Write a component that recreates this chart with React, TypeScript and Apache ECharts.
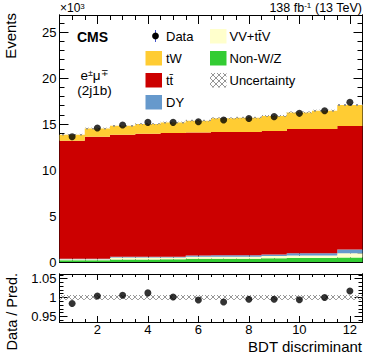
import React, { useEffect, useRef } from 'react';
import * as echarts from 'echarts';

// ---- data (events in units of 10^3) ----
const bins = [1, 2, 3, 4, 5, 6, 7, 8, 9, 10, 11, 12];
const dataEvents = [13.62, 14.57, 14.89, 15.18, 15.18, 15.25, 15.43, 15.6, 15.8, 16.16, 16.45, 17.36];
const nonWZ = [0.18, 0.18, 0.28, 0.28, 0.29, 0.35, 0.35, 0.36, 0.4, 0.43, 0.44, 0.5];
const vvttv = [0.12, 0.12, 0.2, 0.2, 0.2, 0.22, 0.22, 0.22, 0.26, 0.28, 0.28, 0.45];
const dy = [0.06, 0.06, 0.08, 0.09, 0.09, 0.15, 0.16, 0.16, 0.16, 0.23, 0.23, 0.4];
const ttbar = [12.82, 13.26, 13.28, 13.38, 13.44, 13.37, 13.4, 13.39, 13.42, 13.52, 13.51, 13.43];
const tw = [0.66, 0.89, 0.96, 1.05, 1.14, 1.27, 1.49, 1.55, 1.64, 1.8, 1.99, 2.29];
const ratio = [0.984, 1.004, 1.006, 1.012, 1.001, 0.993, 0.988, 0.995, 0.995, 0.994, 1.0, 1.017];
const uncFrac = [0.0065, 0.0065, 0.0065, 0.0065, 0.0065, 0.0065, 0.0065, 0.0065, 0.0065, 0.0065, 0.0065, 0.0065];

const mainYLabels = [0, 5, 10, 15, 20, 25];
const ratioYLabels = [0.95, 1, 1.05];
const xLabels = [2, 4, 6, 8, 10, 12];

const COLORS = {
  nonWZ: '#33cc33',
  vv: '#ffffcc',
  dy: '#6699cc',
  tt: '#cc0000',
  tw: '#ffcc33',
};

const FONT = '"Liberation Sans", Arial, Helvetica, sans-serif';
const TT = 't' + 't\u0304';

function range(a: number, b: number, step: number): number[] {
  const out: number[] = [];
  const n = Math.round((b - a) / step);
  for (let i = 0; i <= n; i++) out.push(Math.round((a + i * step) * 1000) / 1000);
  return out;
}

function makePattern() {
  const c = document.createElement('canvas');
  const s = 6;
  c.width = s;
  c.height = s;
  const ctx = c.getContext('2d')!;
  ctx.strokeStyle = '#8a8a8a';
  ctx.lineWidth = 0.9;
  ctx.beginPath();
  ctx.moveTo(0, 0);
  ctx.lineTo(s, s);
  ctx.moveTo(0, s);
  ctx.lineTo(s, 0);
  ctx.stroke();
  return { image: c, repeat: 'repeat', imageWidth: s, imageHeight: s } as any;
}

function axis(
  gridIndex: number,
  position: string,
  min: number,
  max: number,
  ticks: number[],
  len: number,
  labels: number[] | null,
  labelMargin = 4
) {
  return {
    type: 'value',
    gridIndex,
    position,
    min,
    max,
    axisLine: { show: true, onZero: false, lineStyle: { color: '#000', width: 1 } },
    axisTick: { show: true, inside: true, length: len, customValues: ticks, lineStyle: { color: '#000', width: 1 } },
    axisLabel: labels
      ? {
          show: true,
          customValues: labels,
          color: '#000',
          fontFamily: FONT,
          fontSize: 13,
          margin: labelMargin,
          formatter: (v: number) => String(v),
        }
      : { show: false },
    splitLine: { show: false },
    splitArea: { show: false },
  } as any;
}

export default function App() {
  const ref = useRef<HTMLDivElement>(null);

  useEffect(() => {
    if (!ref.current) return;
    const chart = echarts.init(ref.current, undefined, { renderer: 'svg' });
    const pattern = makePattern();

    const components = [
      { name: 'Non-W/Z', arr: nonWZ, color: COLORS.nonWZ },
      { name: 'VV+ttV', arr: vvttv, color: COLORS.vv },
      { name: 'DY', arr: dy, color: COLORS.dy },
      { name: 'tt', arr: ttbar, color: COLORS.tt },
      { name: 'tW', arr: tw, color: COLORS.tw },
    ];
    // cumulative stack table built from the component arrays
    const cum = bins.map(() => 0);
    const stackTable = components.map((c) => {
      const rows = bins.map((b, i) => {
        const lo = cum[i];
        const hi = lo + c.arr[i];
        cum[i] = hi;
        return [b, lo, hi];
      });
      return { ...c, rows };
    });
    const total = cum.slice();

    const G0 = { left: 59.5, top: 15, width: 303, height: 247 };
    const G1 = { left: 59.5, top: 274, width: 303, height: 48 };
    const Y0MAX = 26.85;
    const R_MIN = 0.935;
    const R_MAX = 1.062;

    const xMinor = range(0.5, 12.5, 0.5);
    const xMajor = xLabels;
    const yMinor = range(0, 26, 1);
    const yMajor = mainYLabels;
    const rMinor = range(0.94, 1.06, 0.01);
    const rMajor = ratioYLabels;

    const xAxes = [
      axis(0, 'bottom', 0.5, 12.5, xMinor, 5, null), // 0
      axis(0, 'bottom', 0.5, 12.5, xMajor, 9, null),
      axis(0, 'top', 0.5, 12.5, xMinor, 5, null),
      axis(0, 'top', 0.5, 12.5, xMajor, 9, null),
      axis(1, 'bottom', 0.5, 12.5, xMinor, 3, xLabels, 1), // 4
      axis(1, 'bottom', 0.5, 12.5, xMajor, 6, null),
      axis(1, 'top', 0.5, 12.5, xMinor, 3, null),
      axis(1, 'top', 0.5, 12.5, xMajor, 6, null),
    ];
    const yAxes = [
      axis(0, 'left', 0, Y0MAX, yMinor, 5, mainYLabels, 3), // 0
      axis(0, 'left', 0, Y0MAX, yMajor, 9, null),
      axis(0, 'right', 0, Y0MAX, yMinor, 5, null),
      axis(0, 'right', 0, Y0MAX, yMajor, 9, null),
      axis(1, 'left', R_MIN, R_MAX, rMinor, 4, ratioYLabels, 3), // 4
      axis(1, 'left', R_MIN, R_MAX, rMajor, 8, null),
      axis(1, 'right', R_MIN, R_MAX, rMinor, 4, null),
      axis(1, 'right', R_MIN, R_MAX, rMajor, 8, null),
    ];

    // one step-shaped polygon per component (drawn at its first data item)
    const makeStepRender = (rows: number[][], fill: any) => (params: any, api: any) => {
      if (params.dataIndex !== 0) return null;
      const top: number[][] = [];
      const bottom: number[][] = [];
      rows.forEach((r) => {
        top.push(api.coord([r[0] - 0.5, r[2]]));
        top.push(api.coord([r[0] + 0.5, r[2]]));
        bottom.push(api.coord([r[0] - 0.5, r[1]]));
        bottom.push(api.coord([r[0] + 0.5, r[1]]));
      });
      const pts = top.concat(bottom.reverse());
      return {
        type: 'polygon',
        shape: { points: pts },
        style: { fill, stroke: null },
      };
    };

    const makeRectRender = (fill: any, minH: number) => (params: any, api: any) => {
      const x = api.value(0);
      const lo = api.value(1);
      const hi = api.value(2);
      const p1 = api.coord([x - 0.5, hi]);
      const p2 = api.coord([x + 0.5, lo]);
      return {
        type: 'rect',
        shape: { x: p1[0], y: p1[1], width: p2[0] - p1[0], height: Math.max(p2[1] - p1[1], minH) },
        style: { fill, stroke: null },
      };
    };

    const stackSeries = stackTable.map((s, k) => ({
      type: 'custom',
      name: s.name,
      xAxisIndex: 0,
      yAxisIndex: 0,
      renderItem: makeStepRender(s.rows, s.color),
      encode: { x: 0, y: [1, 2] },
      data: s.rows,
      clip: true,
      z: 2 + k * 0.01,
    }));

    const option: any = {
      animation: false,
      backgroundColor: '#fff',
      grid: [
        { ...G0, containLabel: false },
        { ...G1, containLabel: false },
      ],
      xAxis: xAxes,
      yAxis: yAxes,
      series: [
        ...stackSeries,
        {
          type: 'custom',
          xAxisIndex: 0,
          yAxisIndex: 0,
          renderItem: makeRectRender(pattern, 1),
          encode: { x: 0, y: [1, 2] },
          data: bins.map((b, i) => [b, total[i] * (1 - uncFrac[i]), total[i] * (1 + uncFrac[i])]),
          z: 3,
        },
        {
          type: 'scatter',
          xAxisIndex: 0,
          yAxisIndex: 0,
          symbol: 'circle',
          symbolSize: 7,
          itemStyle: { color: '#000' },
          data: bins.map((b, i) => [b, dataEvents[i]]),
          z: 5,
        },
        {
          type: 'custom',
          xAxisIndex: 4,
          yAxisIndex: 4,
          renderItem: makeRectRender(pattern, 1),
          encode: { x: 0, y: [1, 2] },
          data: bins.map((b, i) => [b, 1 - uncFrac[i], 1 + uncFrac[i]]),
          z: 3,
        },
        {
          type: 'scatter',
          xAxisIndex: 4,
          yAxisIndex: 4,
          symbol: 'circle',
          symbolSize: 7,
          itemStyle: { color: '#000' },
          data: bins.map((b, i) => [b, ratio[i]]),
          z: 5,
        },
      ],
      graphic: [
        // header texts
        {
          type: 'text',
          x: 60,
          y: 8,
          style: {
            text: '{a|×10}{s|3}',
            fontFamily: FONT,
            align: 'left',
            verticalAlign: 'middle',
            rich: {
              a: { fontSize: 12, fontFamily: FONT, fill: '#000' },
              s: { fontSize: 8, fontFamily: FONT, fill: '#000', verticalAlign: 'top' },
            },
          },
        },
        {
          type: 'text',
          x: 362,
          y: 8,
          style: {
            text: '{a|138 fb}{s|-1}{a| (13 TeV)}',
            fontFamily: FONT,
            align: 'right',
            verticalAlign: 'middle',
            rich: {
              a: { fontSize: 12.5, fontFamily: FONT, fill: '#000' },
              s: { fontSize: 8, fontFamily: FONT, fill: '#000', verticalAlign: 'top' },
            },
          },
        },
        // axis titles
        {
          type: 'text',
          x: 10,
          y: 13,
          rotation: Math.PI / 2,
          style: { text: 'Events', fontFamily: FONT, fontSize: 15, fill: '#000', align: 'right', verticalAlign: 'middle' },
        },
        {
          type: 'text',
          x: 12,
          y: 273,
          rotation: Math.PI / 2,
          style: { text: 'Data / Pred.', fontFamily: FONT, fontSize: 14.5, fill: '#000', align: 'right', verticalAlign: 'middle' },
        },
        {
          type: 'text',
          x: 362,
          y: 346,
          style: { text: 'BDT discriminant', fontFamily: FONT, fontSize: 15, fill: '#000', align: 'right', verticalAlign: 'middle' },
        },
        // CMS label and channel
        {
          type: 'text',
          x: 77,
          y: 37,
          style: { text: 'CMS', fontFamily: FONT, fontSize: 14, fontWeight: 'bold', fill: '#000', align: 'left', verticalAlign: 'middle' },
        },
        {
          type: 'text',
          x: 94.5,
          y: 75,
          style: {
            text: '{n|e}{s|±}{n|μ}{s|∓}',
            fontFamily: FONT,
            align: 'center',
            verticalAlign: 'middle',
            rich: {
              n: { fontSize: 13.5, fontFamily: FONT, fill: '#000' },
              s: { fontSize: 9, fontFamily: FONT, fill: '#000', verticalAlign: 'top' },
            },
          },
        },
        {
          type: 'text',
          x: 94.5,
          y: 90.5,
          style: { text: '(2j1b)', fontFamily: FONT, fontSize: 13.5, fill: '#000', align: 'center', verticalAlign: 'middle' },
        },
        // legend column 1
        { type: 'line', shape: { x1: 155.5, y1: 30, x2: 155.5, y2: 42 }, style: { stroke: '#4455cc', lineWidth: 1 } },
        { type: 'circle', shape: { cx: 155.5, cy: 36, r: 3.4 }, style: { fill: '#000' } },
        { type: 'text', x: 166, y: 36, style: { text: 'Data', fontFamily: FONT, fontSize: 13, fill: '#000', verticalAlign: 'middle' } },
        { type: 'rect', shape: { x: 145.5, y: 51, width: 16.5, height: 14.5 }, style: { fill: COLORS.tw } },
        { type: 'text', x: 166, y: 58.5, style: { text: 'tW', fontFamily: FONT, fontSize: 13, fill: '#000', verticalAlign: 'middle' } },
        { type: 'rect', shape: { x: 145.5, y: 73, width: 16.5, height: 14.5 }, style: { fill: COLORS.tt } },
        { type: 'text', x: 166, y: 80.5, style: { text: TT, fontFamily: FONT, fontSize: 13, fill: '#000', verticalAlign: 'middle' } },
        { type: 'rect', shape: { x: 145.5, y: 95, width: 16.5, height: 14.5 }, style: { fill: COLORS.dy } },
        { type: 'text', x: 166, y: 102.5, style: { text: 'DY', fontFamily: FONT, fontSize: 13, fill: '#000', verticalAlign: 'middle' } },
        // legend column 2
        { type: 'rect', shape: { x: 210, y: 29, width: 16.5, height: 14.5 }, style: { fill: COLORS.vv } },
        { type: 'text', x: 229.5, y: 36, style: { text: 'VV+' + TT + 'V', fontFamily: FONT, fontSize: 13, fill: '#000', verticalAlign: 'middle' } },
        { type: 'rect', shape: { x: 210, y: 51, width: 16.5, height: 14.5 }, style: { fill: COLORS.nonWZ } },
        { type: 'text', x: 229.5, y: 58.5, style: { text: 'Non-W/Z', fontFamily: FONT, fontSize: 13, fill: '#000', verticalAlign: 'middle' } },
        { type: 'rect', shape: { x: 210, y: 73, width: 16.5, height: 14.5 }, style: { fill: pattern } },
        { type: 'text', x: 229.5, y: 80.5, style: { text: 'Uncertainty', fontFamily: FONT, fontSize: 13, fill: '#000', verticalAlign: 'middle' } },
      ],
    };

    chart.setOption(option);
    return () => chart.dispose();
  }, []);

  return (
    <div
      ref={ref}
      style={{ position: 'fixed', left: 0, top: 0, width: 374, height: 359, background: '#fff' }}
    />
  );
}
